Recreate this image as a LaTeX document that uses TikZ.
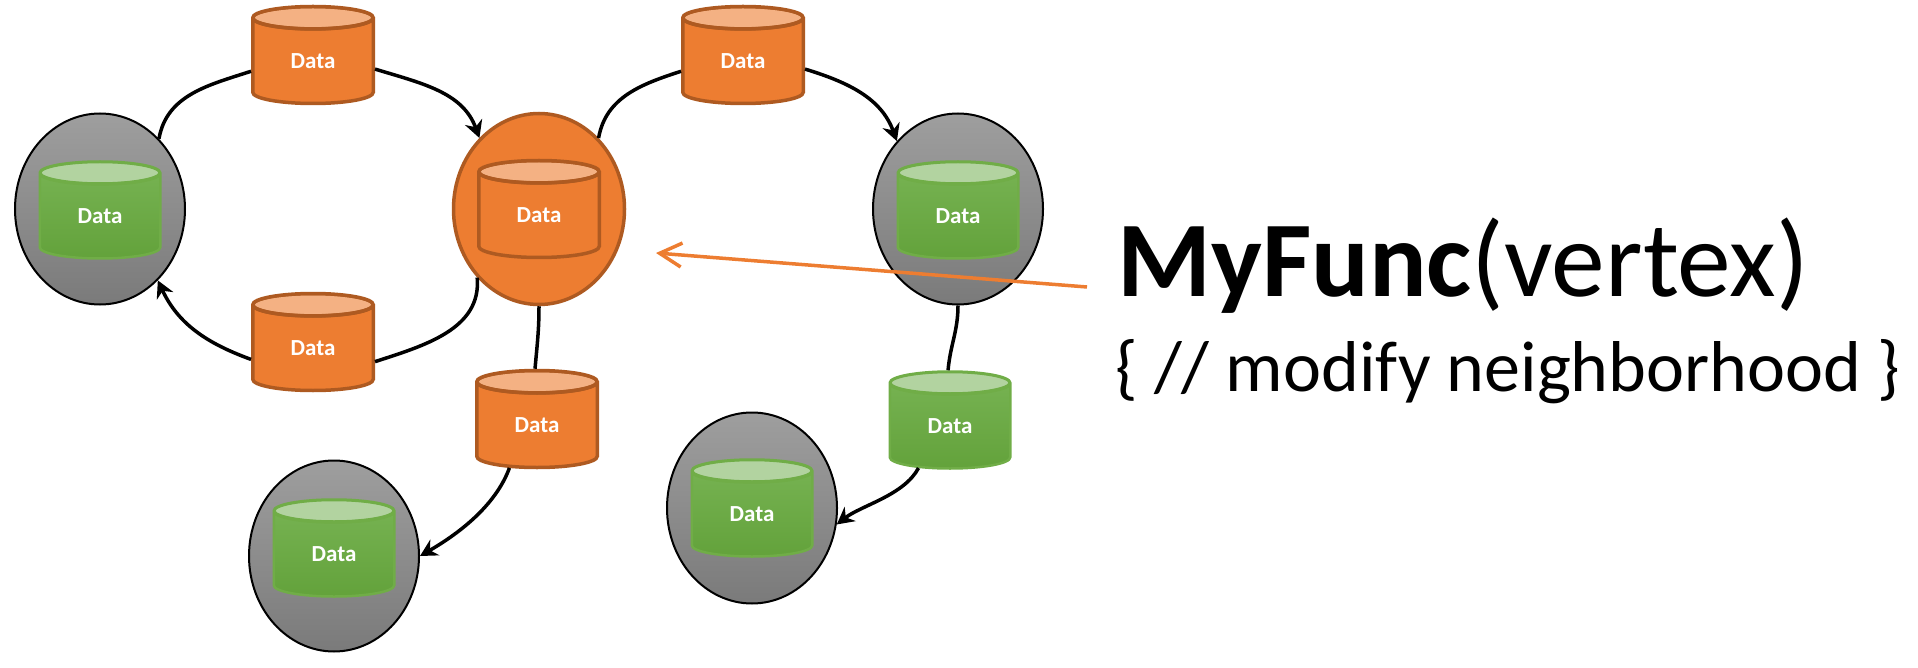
\documentclass[tikz,border=0pt]{standalone}
\usepackage{fontspec}
\setmainfont{Carlito}
\usetikzlibrary{shapes.geometric,arrows.meta}
\definecolor{fillorange}{HTML}{ED7D31}
\definecolor{lineorange}{HTML}{AE5A21}
\definecolor{caporange}{HTML}{F4B183}
\definecolor{linegreen}{HTML}{70AD47}
\definecolor{topgreen}{HTML}{78B454}
\definecolor{bottomgreen}{HTML}{63A23B}
\definecolor{capgreen}{HTML}{B2D3A0}
\tikzset{
  datacap/.style 2 args={path picture={
    \draw[draw=#1,fill=#2,line width=3.5pt]
      ([yshift=-11.25pt]path picture bounding box.north) ellipse (60.25pt and 11.25pt);}},
  datacyl/.style={cylinder, shape border rotate=90, aspect=0.5, anchor=shape center,
    minimum width=120.5pt, minimum height=97pt, inner sep=0pt, text=white,
    font=\bfseries\fontsize{23}{27}\selectfont},
  dataorange/.style={datacyl, draw=lineorange, fill=fillorange, line width=3.5pt,
    datacap={lineorange}{caporange}},
  datagreen/.style={datacyl, draw=linegreen, top color=topgreen,
    bottom color=bottomgreen, line width=2.5pt, datacap={linegreen}{capgreen}},
  vertexgray/.style={ellipse, draw=black, top color=black!38, bottom color=black!52,
    line width=2pt, minimum width=170pt, minimum height=191pt, inner sep=0pt},
  vertexorange/.style={ellipse, draw=lineorange, fill=fillorange,
    line width=3.5pt, minimum width=171pt, minimum height=191pt, inner sep=0pt},
  flow/.style={draw=black, line width=3.5pt, -{Stealth[length=17pt,width=18pt]}},
  flowplain/.style={draw=black, line width=3.5pt},
  pointer/.style={draw=fillorange, line width=3.5pt,
    -{Straight Barb[length=22pt,width=24pt]}},
}
\begin{document}
\begin{tikzpicture}[x=1pt,y=-1pt]
  \useasboundingbox (0,0) rectangle (1918,668);
  \node[vertexgray] (left) at (100,209) {};
  \node[vertexorange] (middle) at (539,209) {};
  \node[vertexgray] (right) at (958,209) {};
  \node[vertexgray] (lowa) at (334,556) {};
  \node[vertexgray] (lowb) at (752,508) {};
  \node[datagreen] (leftdata) at (100,210) {Data};
  \node[dataorange] (middledata) at (539,209) {Data};
  \node[datagreen] (rightdata) at (958,210) {Data};
  \node[datagreen] (lowadata) at (334,548) {Data};
  \node[datagreen] (lowbdata) at (752,508) {Data};
  \node[dataorange] (edgea) at (313,55) {Data};
  \node[dataorange] (edgeb) at (743,55) {Data};
  \node[dataorange] (edgec) at (313,342) {Data};
  \node[dataorange] (edged) at (537,419) {Data};
  \node[datagreen] (edgee) at (950,420) {Data};
  \draw[flowplain] (left.50) to[out=80, in=198] (edgea.189);
  \draw[flow] (edgea.-7) to[out=-17, in=110] (middle.130);
  \draw[flowplain] (middle.50) to[out=80, in=198] (edgeb.189);
  \draw[flow] (edgeb.-7) to[out=-17, in=110] (right.132);
  \draw[flowplain] (middle.228) to[out=-85, in=18] (edgec.-12);
  \draw[flow] (edgec.190) to[out=160, in=-65] (left.-51);
  \draw[flowplain] (middle.south) to[out=-90, in=85] (edged.92);
  \draw[flow] (edged.237) to[out=-110, in=30, looseness=0.85] (lowa.0);
  \draw[flowplain] (right.south) to[out=-90, in=85] (edgee.92);
  \draw[flow] (edgee.233) to[out=-118, in=38, looseness=0.8] (lowb.-11);
  \node[anchor=base west, inner sep=0pt, font=\fontsize{107.5}{120}\selectfont] (title)
    at (1117,296) {\bfseries MyFunc\mdseries(vertex)};
  \node[anchor=base west, inner sep=0pt, font=\fontsize{72}{84}\selectfont] (comment)
    at (1115,391) {\{ // modify neighborhood \}};
  \coordinate (pointerstart) at (1087,287);
  \coordinate (pointerend) at (656,253);
  \draw[pointer] (pointerstart) -- (pointerend);
\end{tikzpicture}
\end{document}
